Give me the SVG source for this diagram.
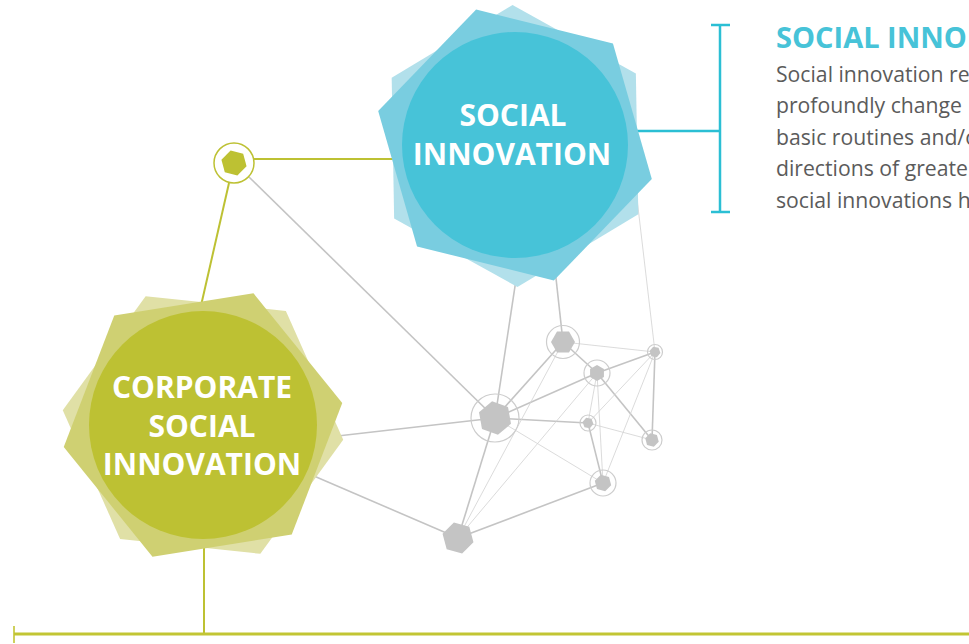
<svg xmlns="http://www.w3.org/2000/svg" xmlns:xlink="http://www.w3.org/1999/xlink" width="969" height="644" viewBox="0 0 969 644">
<style>
.thick{stroke:#c4c4c4;stroke-width:1.6;fill:none}
.thin{stroke:#d2d2d2;stroke-width:0.8;fill:none}
.ring{stroke:#cdcdcd;stroke-width:1.2;fill:none}
.gh{fill:#c4c4c4}
.green{stroke:#bdc133;stroke-width:2;fill:none}
.cyan{stroke:#2bbfd4;stroke-width:2.5;fill:none}
.lbl{font-family:"Open Sans","Liberation Sans",sans-serif;font-weight:700;font-size:30px;fill:#ffffff;text-anchor:middle}
.title{font-family:"Open Sans","Liberation Sans",sans-serif;font-weight:700;font-size:29px;fill:#47c3d8}
.body{font-family:"Open Sans","Liberation Sans",sans-serif;font-size:21.2px;fill:#5b5b5b}
</style>
<defs>
<polygon id="hx" points="1,0 0.5,0.866 -0.5,0.866 -1,0 -0.5,-0.866 0.5,-0.866"/>
<polygon id="bighex" points="141,0 70.5,122.11 -70.5,122.11 -141,0 -70.5,-122.11 70.5,-122.11"/>
</defs>
<rect width="969" height="644" fill="#ffffff"/>

<g id="connectors">
<line class="green" x1="254" y1="159" x2="400" y2="159"/>
<line class="green" x1="229" y1="183" x2="200" y2="310"/>
<line class="green" x1="204" y1="540" x2="204" y2="633"/>
<line x1="14" y1="634" x2="969" y2="634" stroke="#c2c534" stroke-width="3"/>
<line x1="14" y1="626" x2="14" y2="643" stroke="#c2c534" stroke-width="1.6"/>
<line class="cyan" x1="620" y1="131" x2="720" y2="131"/>
<line class="cyan" x1="720" y1="25" x2="720" y2="212"/>
<line class="cyan" x1="711" y1="25" x2="730" y2="25"/>
<line class="cyan" x1="711" y1="212" x2="730" y2="212"/>
<line class="thick" x1="249" y1="177" x2="495" y2="418"/>
<line class="thick" x1="519" y1="260" x2="495" y2="418"/>
<line class="thick" x1="554" y1="260" x2="563" y2="342"/>
<line class="thin" x1="636" y1="190" x2="655" y2="352"/>
<line class="thick" x1="320" y1="438" x2="495" y2="418"/>
<line class="thick" x1="300" y1="470" x2="458" y2="538"/>
<line class="thick" x1="495" y1="418" x2="458" y2="538"/>
<line class="thick" x1="495" y1="418" x2="563" y2="342"/>
<line class="thick" x1="495" y1="418" x2="597" y2="373"/>
<line class="thick" x1="495" y1="418" x2="588" y2="423"/>
<line class="thin" x1="495" y1="418" x2="603" y2="483"/>
<line class="thick" x1="563" y1="342" x2="597" y2="373"/>
<line class="thin" x1="563" y1="342" x2="655" y2="352"/>
<line class="thin" x1="563" y1="342" x2="458" y2="538"/>
<line class="thick" x1="597" y1="373" x2="655" y2="352"/>
<line class="thick" x1="597" y1="373" x2="652" y2="440"/>
<line class="thin" x1="597" y1="373" x2="603" y2="483"/>
<line class="thin" x1="597" y1="373" x2="588" y2="423"/>
<line class="thin" x1="597" y1="373" x2="458" y2="538"/>
<line class="thick" x1="655" y1="352" x2="652" y2="440"/>
<line class="thin" x1="655" y1="352" x2="588" y2="423"/>
<line class="thin" x1="655" y1="352" x2="603" y2="483"/>
<line class="thin" x1="588" y1="423" x2="652" y2="440"/>
<line class="thick" x1="588" y1="423" x2="603" y2="483"/>
<line class="thick" x1="603" y1="483" x2="458" y2="538"/>
</g>

<g id="net-hub">
<use xlink:href="#hx" class="gh" transform="translate(495,418) rotate(20) scale(17)"/>
<circle class="ring" cx="495" cy="418" r="24"/>
</g>
<g id="net-n1">
<use xlink:href="#hx" class="gh" transform="translate(563,342) rotate(0) scale(12)"/>
<circle class="ring" cx="563" cy="342" r="16.5"/>
</g>
<g id="net-n2">
<use xlink:href="#hx" class="gh" transform="translate(597,373) rotate(30) scale(8)"/>
<circle class="ring" cx="597" cy="373" r="13"/>
</g>
<g id="net-n3">
<use xlink:href="#hx" class="gh" transform="translate(655,352) rotate(10) scale(5.5)"/>
<circle class="ring" cx="655" cy="352" r="7.5"/>
</g>
<g id="net-n4">
<use xlink:href="#hx" class="gh" transform="translate(588,423) rotate(10) scale(5.5)"/>
<circle class="ring" cx="588" cy="423" r="8"/>
</g>
<g id="net-n5">
<use xlink:href="#hx" class="gh" transform="translate(652,440) rotate(15) scale(7)"/>
<circle class="ring" cx="652" cy="440" r="10"/>
</g>
<g id="net-n6">
<use xlink:href="#hx" class="gh" transform="translate(603,483) rotate(15) scale(8.5)"/>
<circle class="ring" cx="603" cy="483" r="13"/>
</g>
<g id="net-n7">
<use xlink:href="#hx" class="gh" transform="translate(458,538) rotate(15) scale(16)"/>
</g>

<g id="green-node">
<circle cx="234" cy="163" r="20" fill="#ffffff" stroke="#bdc133" stroke-width="1.5"/>
<use xlink:href="#hx" fill="#bdc133" transform="translate(234,163) rotate(15) scale(13)"/>
</g>

<g id="social-innovation">
<use xlink:href="#bighex" fill="#b2e0eb" transform="translate(515,146) rotate(-31)"/>
<use xlink:href="#bighex" fill="#79cde0" transform="translate(515,145) rotate(14)"/>
<circle cx="515" cy="145" r="113" fill="#47c3d8"/>
<text class="lbl" x="513" y="126">SOCIAL</text>
<text class="lbl" x="512" y="165">INNOVATION</text>
</g>

<g id="corporate-social-innovation">
<use xlink:href="#bighex" fill="#e0e0a6" transform="translate(203,425) rotate(6)"/>
<use xlink:href="#bighex" fill="#cfd072" transform="translate(203,425) rotate(-9)"/>
<circle cx="203" cy="425" r="114" fill="#bdc133"/>
<text class="lbl" x="202" y="398">CORPORATE</text>
<text class="lbl" x="202" y="437">SOCIAL</text>
<text class="lbl" x="202" y="475">INNOVATION</text>
</g>

<g id="description">
<text class="title" x="776" y="48">SOCIAL INNO</text>
<text class="body" x="776" y="82">Social innovation re</text>
<text class="body" x="776" y="113">profoundly change</text>
<text class="body" x="776" y="145">basic routines and/o</text>
<text class="body" x="776" y="176">directions of greate</text>
<text class="body" x="776" y="208">social innovations h</text>
</g>
</svg>
